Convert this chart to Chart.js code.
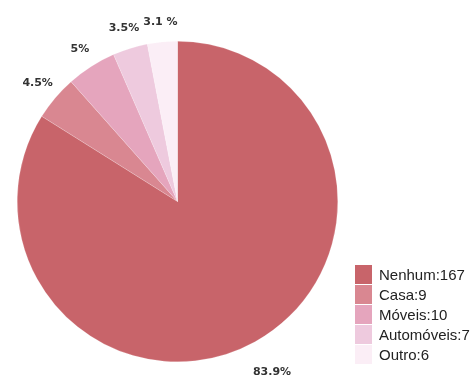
<!DOCTYPE html>
<html>
<head>
<meta charset="utf-8">
<script src="https://cdn.jsdelivr.net/npm/chart.js@4/dist/chart.umd.min.js"></script>
<style>
  body { margin: 0; background: #fff; }
  #wrap { position: relative; width: 473px; height: 387px; }
  #legend { position: absolute; left: 355px; top: 265px; font-family: "Liberation Sans", Arial, sans-serif; font-size: 15px; color: #222; }
  #legend div { height: 20px; line-height: 20px; white-space: nowrap; }
  #legend span { display: inline-block; width: 17px; height: 19px; vertical-align: top; margin-right: 7px; }
</style>
</head>
<body>
<div id="wrap">
  <canvas id="pieChart" width="473" height="387"></canvas>
  <div id="legend"></div>
</div>
<script>
var categories = ["Nenhum", "Casa", "Móveis", "Automóveis", "Outro"];
var counts = [167, 9, 10, 7, 6];
var percentLabels = ["83.9%", "4.5%", "5%", "3.5%", "3.1 %"];

var sliceColors = ["#c8646a", "#d98791", "#e5a5bd", "#eecade", "#fbeef6"];
// how far outside the pie each percent label sits
var labelGap = [35, 23, 21, 21, 20];

var pctPlugin = {
  id: 'pctLabels',
  afterDatasetsDraw: function (chart) {
    var ctx = chart.ctx;
    var arcs = chart.getDatasetMeta(0).data;
    ctx.save();
    ctx.font = 'bold 11px "DejaVu Sans", sans-serif';
    ctx.fillStyle = '#333';
    ctx.textAlign = 'center';
    ctx.textBaseline = 'middle';
    arcs.forEach(function (arc, i) {
      var p = arc.getProps(['x', 'y', 'startAngle', 'endAngle', 'outerRadius'], true);
      var mid = (p.startAngle + p.endAngle) / 2;
      var r = p.outerRadius + labelGap[i];
      ctx.fillText(percentLabels[i], p.x + Math.cos(mid) * r, p.y + Math.sin(mid) * r);
    });
    ctx.restore();
  }
};

var pie = new Chart(document.getElementById('pieChart'), {
  type: 'pie',
  data: {
    labels: categories,
    datasets: [{
      data: counts,
      backgroundColor: sliceColors,
      borderColor: 'rgba(255,255,255,0.35)',
      borderWidth: 0.5
    }]
  },
  options: {
    responsive: false,
    animation: false,
    layout: { padding: { left: 17, right: 135, top: 41, bottom: 25 } },
    plugins: {
      legend: { display: false },
      tooltip: { enabled: false }
    }
  },
  plugins: [pctPlugin]
});

// legend on the right, boxes stacked
var legend = document.getElementById('legend');
categories.forEach(function (name, i) {
  var row = document.createElement('div');
  var box = document.createElement('span');
  box.style.background = sliceColors[i];
  row.appendChild(box);
  row.appendChild(document.createTextNode(name + ':' + counts[i]));
  legend.appendChild(row);
});
</script>
</body>
</html>
